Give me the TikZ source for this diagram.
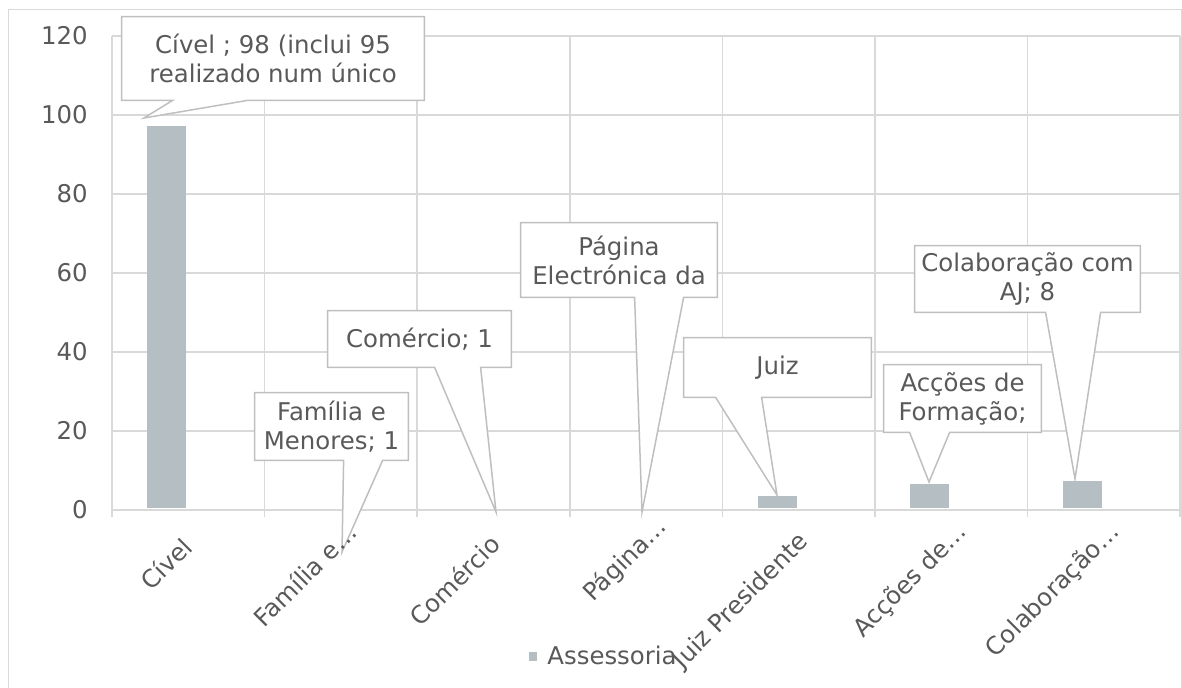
\documentclass[tikz,border=0pt]{standalone}
\usepackage{fontspec}
\setmainfont{DejaVu Sans}
\usepackage{xcolor}
\usetikzlibrary{calc}
\usetikzlibrary{backgrounds}
\definecolor{txtgrey}{HTML}{595959}
\definecolor{gridgrey}{HTML}{D9D9D9}
\definecolor{bargrey}{HTML}{B4BEC3}
\definecolor{edgegrey}{HTML}{BFBFBF}
\pgfdeclarelayer{bubbles}
\pgfsetlayers{background,bubbles,main}
\tikzset{every node/.style={text=txtgrey, font=\fontsize{12.2}{14.5}\selectfont},
 gridline/.style={draw=gridgrey, line width=0.75pt},
 barfill/.style={fill=bargrey},
 bubble/.style={align=center, inner sep=0pt},
 pointer/.style={draw=edgegrey, line width=0.75pt, fill=white, line join=miter},
 catlabel/.style={anchor=base east, rotate=45, inner sep=0pt},
 }

\begin{document}
\begin{tikzpicture}[x=0.5pt, y=-0.5pt]
        \useasboundingbox (0,0) rectangle (1182,688);
        \begin{scope}[on background layer]
            \draw [draw=gridgrey, line width=0.5pt] (8,10) rectangle (1181,700);
            \foreach \k in {0,...,6}
                \draw [gridline] (112, 510-79*\k) -- (1180, 510-79*\k);
            \foreach \k in {0,...,7}
                \draw [gridline] (112+152.6*\k, 36) -- (112+152.6*\k, 517);
            \foreach \i/\top in {0/126, 4/496, 5/484, 6/481}
                \fill [barfill] (147.3+152.6*\i, 508) rectangle (186.3+152.6*\i, \top);
        \end{scope}
        % value axis
        \foreach \v [count=\k from 0] in {0,20,40,60,80,100,120}
            \node [anchor=east, inner sep=0pt] (ylab\v) at (88, 510-79*\k) {\v};
        % category axis
        \foreach \i/\name/\dx/\pos in {0/Cível/6/549, 1/Família e…/18/534, 2/Comércio/9/546, 3/Página…/22/528, 4/Juiz Presidente/11/543, 5/Acções de…/17/533, 6/Colaboração…/17/533}
            \node [catlabel] (cat\i) at (112+152.6*\i+76.3+\dx, \pos) {\name};
        % data labels
        \node [bubble, minimum width=151pt, minimum height=41.5pt] (civ) at (273, 58.5) {Cível ; 98 (inclui 95\\realizado num único};
        \node [bubble, minimum width=76.5pt, minimum height=33.5pt] (fam) at (331.5, 426.5) {Família e\\Menores; 1};
        \node [bubble, minimum width=91.5pt, minimum height=28pt] (com) at (419.5, 339) {Comércio; 1};
        \node [bubble, minimum width=98pt, minimum height=37pt] (pag) at (619, 260) {Página\\Electrónica da};
        \node [bubble, minimum width=93.5pt, minimum height=29.5pt] (jui) at (777.5, 367.5) {Juiz};
        \node [bubble, minimum width=78.5pt, minimum height=33.5pt] (acc) at (962.5, 398.5) {Acções de\\Formação;};
        \node [bubble, minimum width=112.5pt, minimum height=33pt] (col) at (1027.5, 279) {Colaboração com\\AJ; 8};
        \coordinate (civ-tip) at (144, 118);
        \coordinate (fam-tip) at (342, 552);
        \coordinate (com-tip) at (496, 512);
        \coordinate (pag-tip) at (642, 512);
        \coordinate (jui-tip) at (777, 495);
        \coordinate (acc-tip) at (929, 482);
        \coordinate (col-tip) at (1075, 479);
        \begin{pgfonlayer}{bubbles}
            \foreach \n/\ba/\bb in {civ/51/126, fam/89/128, com/107/153, pag/114/163, jui/32/78, acc/26/66, col/131/186}
                \draw [pointer] (\n.north west) -- (\n.north east) -- (\n.south east) -- ($(\n.south west)+(\bb,0)$) -- (\n-tip) -- ($(\n.south west)+(\ba,0)$) -- (\n.south west) -- cycle;
        \end{pgfonlayer}
        % legend
        \node [fill=bargrey, minimum size=4.25pt, inner sep=0pt] (legkey) at (533, 656.5) {};
        \node [anchor=west, inner sep=0pt] (legtext) at (547, 655) {Assessoria};
\end{tikzpicture}
\end{document}
